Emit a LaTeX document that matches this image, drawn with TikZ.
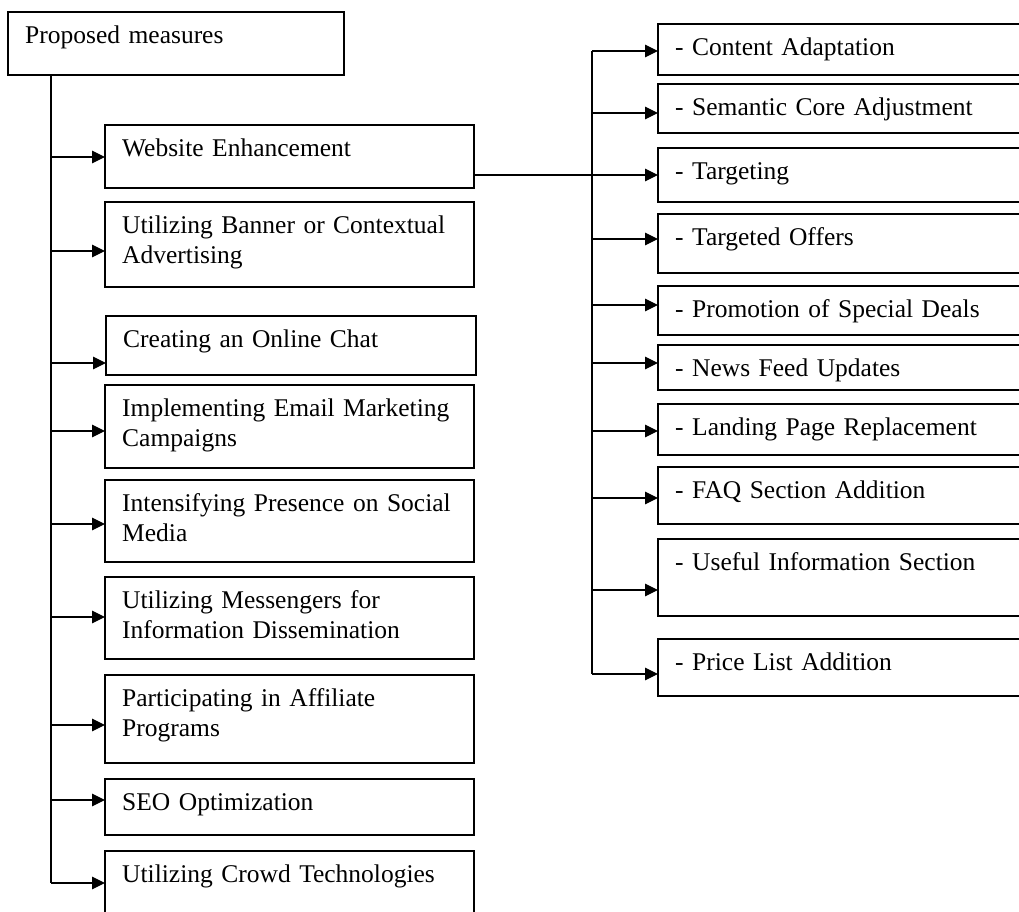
\documentclass[tikz,border=0pt]{standalone}
\usepackage{fontspec}
\setmainfont{Liberation Serif}
\usetikzlibrary{arrows.meta}

% box: name, left, top, width, height, text
\newcommand\mbx[6]{%
  \node[box,minimum width=#4pt,minimum height=#5pt] (#1) at (#2,#3) {};
  \node[lbl] (#1-t) at ([shift={(17pt,-31.5pt)}]#1.north west) {#6};
}

\begin{document}
\begin{tikzpicture}[x=1pt,y=-1pt,
  box/.style={draw,line width=1.3pt,rectangle,anchor=north west,inner sep=0pt,outer sep=0pt},
  lbl/.style={anchor=base west,inner sep=0pt,text width=380pt,align=left,
    font=\fontsize{25.5}{30}\selectfont},
  arr/.style={line width=1.2pt,-{Triangle[length=13pt,width=12.5pt]}},
  ln/.style={line width=1.2pt}]
\useasboundingbox (0,0) rectangle (1019,912);
\clip (0,0) rectangle (1019,912);

% root
\mbx{pm}{8}{12}{336}{63}{Proposed measures}

% left column of measures
\mbx{web}{105}{125}{369}{63}{Website Enhancement}
\mbx{ban}{105}{202}{369}{85}{Utilizing Banner or Contextual\\Advertising}
\mbx{chat}{106}{316}{370}{59}{Creating an Online Chat}
\mbx{mail}{105}{385}{369}{83}{Implementing Email Marketing\\Campaigns}
\mbx{soc}{105}{480}{369}{82}{Intensifying Presence on Social\\Media}
\mbx{msg}{105}{577}{369}{82}{Utilizing Messengers for\\Information Dissemination}
\mbx{aff}{105}{675}{369}{88}{Participating in Affiliate\\Programs}
\mbx{seo}{105}{779}{369}{56}{SEO Optimization}
\mbx{crowd}{105}{851}{369}{80}{Utilizing Crowd Technologies}

% right column of website actions
\mbx{ca}{658}{24}{380}{51}{- Content Adaptation}
\mbx{sem}{658}{84}{380}{49}{- Semantic Core Adjustment}
\mbx{tgt}{658}{148}{380}{54}{- Targeting}
\mbx{tof}{658}{214}{380}{59}{- Targeted Offers}
\mbx{promo}{658}{286}{380}{49}{- Promotion of Special Deals}
\mbx{news}{658}{345}{380}{45}{- News Feed Updates}
\mbx{land}{658}{404}{380}{51}{- Landing Page Replacement}
\mbx{faq}{658}{467}{380}{57}{- FAQ Section Addition}
\mbx{use}{658}{539}{380}{77}{- Useful Information Section}
\mbx{price}{658}{639}{380}{57}{- Price List Addition}

% left branch points
\coordinate (b-web) at (51,157);
\coordinate (b-ban) at (51,251);
\coordinate (b-chat) at (51,363);
\coordinate (b-mail) at (51,431);
\coordinate (b-soc) at (51,524);
\coordinate (b-msg) at (51,617);
\coordinate (b-aff) at (51,725);
\coordinate (b-seo) at (51,800);
\coordinate (b-crowd) at (51,883);

\draw[ln] (pm.south -| b-web) -- (b-crowd);
\foreach \n in {web,ban,chat,mail,soc,msg,aff,seo,crowd}
  \draw[arr] (b-\n) -- (\n.west |- b-\n);

% right branch points
\coordinate (r-ca) at (592,51);
\coordinate (r-sem) at (592,113);
\coordinate (r-tof) at (592,239);
\coordinate (r-promo) at (592,305);
\coordinate (r-news) at (592,363);
\coordinate (r-land) at (592,431);
\coordinate (r-faq) at (592,498);
\coordinate (r-use) at (592,590);
\coordinate (r-price) at (592,674);

\draw[ln] (r-ca) -- (r-price);
\foreach \n in {ca,sem,tof,promo,news,land,faq,use,price}
  \draw[arr] (r-\n) -- (\n.west |- r-\n);

% website enhancement to its actions
\draw[arr] (web.east |- tgt.west) -- (tgt.west);
\end{tikzpicture}
\end{document}
